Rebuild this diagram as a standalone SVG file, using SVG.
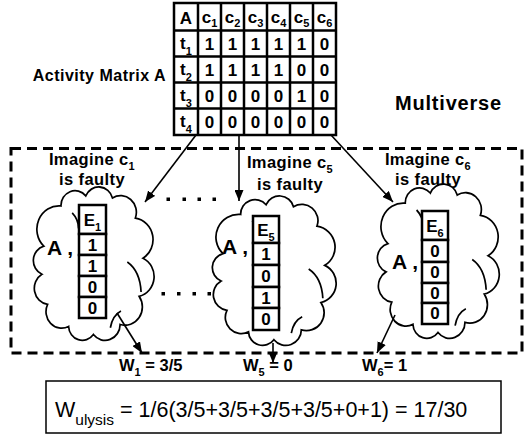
<svg xmlns="http://www.w3.org/2000/svg" width="524" height="439" viewBox="0 0 524 439">
<style>
.b{font-family:"Liberation Sans",Arial,sans-serif;font-weight:bold;fill:#000}
.r{font-family:"Liberation Sans",Arial,sans-serif;fill:#000}
.grid{stroke:#000;stroke-width:2.5;fill:none}
.cell{fill:#fff;stroke:#000;stroke-width:2.5}
.cloud{fill:#fff;stroke:#000;stroke-width:1.6}
.inner{fill:none;stroke:#000;stroke-width:1.6}
.conn{stroke:#000;stroke-width:1.6;fill:none}
.m{font-size:17px;text-anchor:middle}
.lab{font-size:16.5px;text-anchor:middle;letter-spacing:0.4px}
</style>
<defs>
<marker id="ah" markerWidth="11" markerHeight="9" refX="11" refY="4.5" orient="auto" markerUnits="userSpaceOnUse"><path d="M0,0 L11,4.5 L0,9 Z" fill="#000"/></marker>
<path id="cloudShape" d="M13.2 59.9 A20.9 20.9 0 0 1 29.4 23.9 A13.3 13.3 0 0 1 52.8 14.9 A13.4 13.4 0 0 1 78 16.7 A14.9 14.9 0 0 1 99.6 34.7 A19.5 19.5 0 0 1 106.8 70.7 A18.2 18.2 0 0 1 103.2 104.9 A16.4 16.4 0 0 1 85.2 130.1 A14.2 14.2 0 0 1 60 139.1 A13 13 0 0 1 36.6 131.9 A14.8 14.8 0 0 1 16.8 112.1 A14.6 14.6 0 0 1 11.4 85.1 A13.4 13.4 0 0 1 13.2 59.9 Z"/>
<path id="cloudInner" d="M92 74 Q104 82 105 101 M76 133 Q78 122 86 118 M40 30 Q46 36 46 44"/>
</defs>
<rect width="524" height="439" fill="#fff"/>

<g id="multiverse-frame">
<rect x="11" y="148.5" width="511" height="204.5" fill="none" stroke="#000" stroke-width="3" stroke-dasharray="10 6"/>
<text class="b" x="448.5" y="110" font-size="20" text-anchor="middle" letter-spacing="0.8">Multiverse</text>
</g>

<g id="activity-label">
<text class="b" x="166" y="81" font-size="16" text-anchor="end" letter-spacing="0.5">Activity Matrix A</text>
</g>

<g id="matrix">
<rect x="174" y="3" width="162" height="132" fill="#fff"/>
<path class="grid" d="M174 3H336V135H174Z M198 3V135 M221 3V135 M244 3V135 M267 3V135 M290 3V135 M313 3V135 M174 30.5H336 M174 56.5H336 M174 82.5H336 M174 108.5H336"/>
<text class="b" x="186" y="23.5" font-size="17" text-anchor="middle">A</text>
<g class="b" font-size="17" text-anchor="middle">
<text x="209.5" y="22.5">c<tspan font-size="11" dy="4">1</tspan></text>
<text x="232.5" y="22.5">c<tspan font-size="11" dy="4">2</tspan></text>
<text x="255.5" y="22.5">c<tspan font-size="11" dy="4">3</tspan></text>
<text x="278.5" y="22.5">c<tspan font-size="11" dy="4">4</tspan></text>
<text x="301.5" y="22.5">c<tspan font-size="11" dy="4">5</tspan></text>
<text x="324.5" y="22.5">c<tspan font-size="11" dy="4">6</tspan></text>
<text x="186" y="48.5">t<tspan font-size="11" dy="6">1</tspan></text>
<text x="186" y="74.5">t<tspan font-size="11" dy="6">2</tspan></text>
<text x="186" y="100.5">t<tspan font-size="11" dy="6">3</tspan></text>
<text x="186" y="126.5">t<tspan font-size="11" dy="6">4</tspan></text>
</g>
<g class="b m">
<text x="209.5" y="49.5">1</text><text x="232.5" y="49.5">1</text><text x="255.5" y="49.5">1</text><text x="278.5" y="49.5">1</text><text x="301.5" y="49.5">1</text><text x="324.5" y="49.5">0</text>
<text x="209.5" y="75.5">1</text><text x="232.5" y="75.5">1</text><text x="255.5" y="75.5">1</text><text x="278.5" y="75.5">1</text><text x="301.5" y="75.5">0</text><text x="324.5" y="75.5">0</text>
<text x="209.5" y="101.5">0</text><text x="232.5" y="101.5">0</text><text x="255.5" y="101.5">0</text><text x="278.5" y="101.5">0</text><text x="301.5" y="101.5">1</text><text x="324.5" y="101.5">0</text>
<text x="209.5" y="127.5">0</text><text x="232.5" y="127.5">0</text><text x="255.5" y="127.5">0</text><text x="278.5" y="127.5">0</text><text x="301.5" y="127.5">0</text><text x="324.5" y="127.5">0</text>
</g>
</g>

<g id="dots" fill="#000">
<rect x="166.5" y="197.5" width="3.5" height="3.5"/><rect x="182.5" y="197.5" width="3.5" height="3.5"/><rect x="197.5" y="197.5" width="3.5" height="3.5"/><rect x="212.5" y="197.5" width="3.5" height="3.5"/>
<rect x="161.5" y="292" width="3.5" height="3.5"/><rect x="177" y="292" width="3.5" height="3.5"/><rect x="192.5" y="292" width="3.5" height="3.5"/><rect x="207.5" y="292" width="3.5" height="3.5"/>
</g>

<g id="world-c1">
<text class="b lab" x="92" y="165">Imagine c<tspan font-size="11" dy="5">1</tspan></text>
<text class="b lab" x="92" y="185">is faulty</text>
<g transform="translate(29.8,179.3) scale(1.06,1.116)">
<use href="#cloudShape" class="cloud" vector-effect="non-scaling-stroke"/>
<use href="#cloudInner" class="inner" vector-effect="non-scaling-stroke"/>
</g>
<text class="b" x="47" y="255" font-size="21">A ,</text>
<rect class="cell" x="79" y="205" width="27" height="29"/>
<rect class="cell" x="79" y="234" width="27" height="21"/>
<rect class="cell" x="79" y="255" width="27" height="21"/>
<rect class="cell" x="79" y="276" width="27" height="21"/>
<rect class="cell" x="79" y="297" width="27" height="21"/>
<text class="b" x="92.5" y="226" font-size="17" text-anchor="middle">E<tspan font-size="11" dy="5">1</tspan></text>
<g class="b m"><text x="92.5" y="250.5">1</text><text x="92.5" y="271.5">1</text><text x="92.5" y="292.5">0</text><text x="92.5" y="313.5">0</text></g>
</g>

<g id="world-c5">
<text class="b lab" x="290" y="168">Imagine c<tspan font-size="11" dy="5">5</tspan></text>
<text class="b lab" x="290" y="190">is faulty</text>
<g transform="translate(208.7,188.5) scale(1.087,1.087)">
<use href="#cloudShape" class="cloud" vector-effect="non-scaling-stroke"/>
<use href="#cloudInner" class="inner" vector-effect="non-scaling-stroke"/>
</g>
<text class="b" x="222" y="254" font-size="21">A ,</text>
<rect class="cell" x="253" y="216" width="26" height="27"/>
<rect class="cell" x="253" y="243" width="26" height="22"/>
<rect class="cell" x="253" y="265" width="26" height="22"/>
<rect class="cell" x="253" y="287" width="26" height="21"/>
<rect class="cell" x="253" y="308" width="26" height="22"/>
<text class="b" x="266" y="236" font-size="17" text-anchor="middle">E<tspan font-size="11" dy="5">5</tspan></text>
<g class="b m"><text x="266" y="260">1</text><text x="266" y="282">0</text><text x="266" y="303.5">1</text><text x="266" y="325">0</text></g>
</g>

<g id="world-c6">
<text class="b lab" x="428" y="165">Imagine c<tspan font-size="11" dy="5">6</tspan></text>
<text class="b lab" x="428" y="185">is faulty</text>
<g transform="translate(373.8,176.3) scale(1.07,1.123)">
<use href="#cloudShape" class="cloud" vector-effect="non-scaling-stroke"/>
<use href="#cloudInner" class="inner" vector-effect="non-scaling-stroke"/>
</g>
<text class="b" x="392" y="269" font-size="21">A ,</text>
<rect class="cell" x="422" y="211" width="26" height="29"/>
<rect class="cell" x="422" y="240" width="26" height="22"/>
<rect class="cell" x="422" y="262" width="26" height="21"/>
<rect class="cell" x="422" y="283" width="26" height="20"/>
<rect class="cell" x="422" y="303" width="26" height="21"/>
<text class="b" x="435" y="232" font-size="17" text-anchor="middle">E<tspan font-size="11" dy="5">6</tspan></text>
<g class="b m"><text x="435" y="257">0</text><text x="435" y="278">0</text><text x="435" y="298.5">0</text><text x="435" y="319">0</text></g>
</g>

<g id="weights" class="b" font-size="16.5">
<text x="119" y="371">W<tspan font-size="11" dy="5">1</tspan><tspan dy="-5"> = 3/5</tspan></text>
<text x="243" y="371">W<tspan font-size="11" dy="5">5</tspan><tspan dy="-5"> = 0</tspan></text>
<text x="362" y="371">W<tspan font-size="11" dy="5">6</tspan><tspan dy="-5">= 1</tspan></text>
</g>

<g id="formula">
<rect x="46" y="381" width="455" height="52" fill="#fff" stroke="#000" stroke-width="1.5"/>
<text class="r" x="55" y="417" font-size="21.5">W<tspan font-size="15.5" dy="8">ulysis</tspan><tspan dy="-8"> = 1/6(3/5+3/5+3/5+3/5+0+1) = 17/30</tspan></text>
</g>

<g id="connectors" class="conn" marker-end="url(#ah)">
<line x1="196" y1="135" x2="145" y2="202"/>
<line x1="239" y1="135" x2="239" y2="201"/>
<line x1="331" y1="135" x2="393" y2="202"/>
<line x1="117" y1="313" x2="142" y2="353"/>
<line x1="273" y1="343" x2="273" y2="363"/>
<line x1="395" y1="315" x2="377" y2="353"/>
</g>
</svg>
